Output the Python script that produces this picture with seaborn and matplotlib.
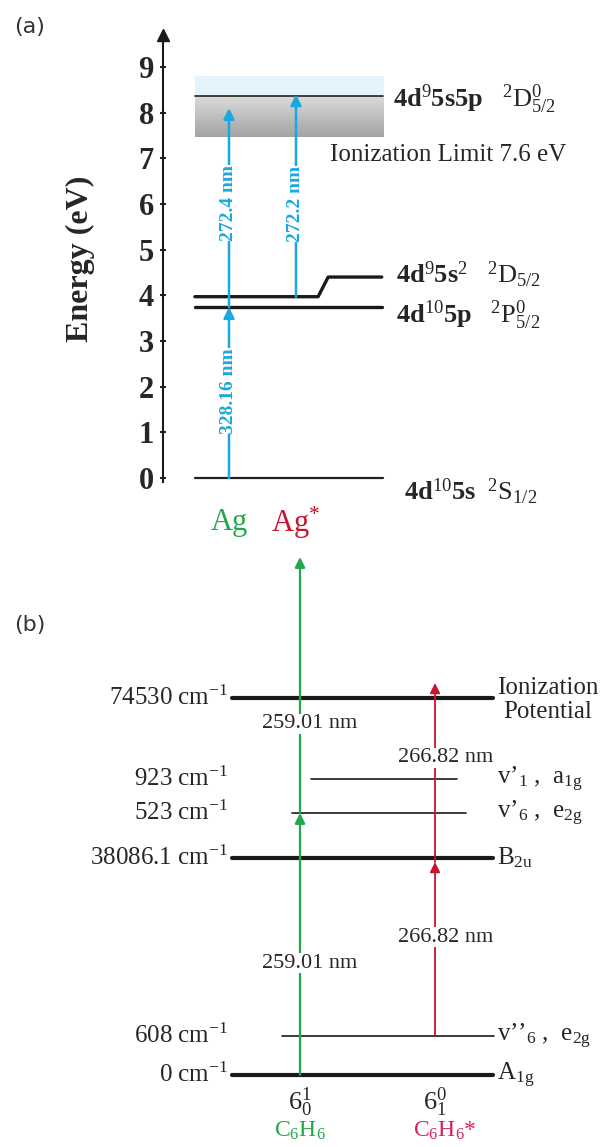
import numpy as np
import pandas as pd
import matplotlib
matplotlib.use("Agg")
import matplotlib.pyplot as plt
import seaborn as sns

# ---- panel (a): Ag levels (eV) ----
ag_level_ev = [0.0, 3.74, 3.97, 4.40, 8.37]
ag_level_text = [
    r"4d$^{10}$5s  ${}^{2}\mathrm{S}_{1/2}$",
    r"4d$^{10}$5p   ${}^{2}\mathrm{P}^{0}_{5/2}$",
    r"4d$^{9}$5s$^{2}$   ${}^{2}\mathrm{D}_{5/2}$",
    r"4d$^{9}$5s5p   ${}^{2}\mathrm{D}^{0}_{5/2}$",
]
ion_band_ev = (7.47, 8.80)
ion_limit_text = "Ionization Limit 7.6 eV"
species_a = ["Ag", r"Ag$^{*}$"]
# transitions: (column, start eV, end eV, label)
trans_a_col = [1, 1, 2]
trans_a_from = [0.0, 3.74, 3.97]
trans_a_to = [3.74, 8.10, 8.40]
trans_a_label = ["328.16 nm", "272.4 nm", "272.2 nm"]
yticks_a = list(range(10))

# ---- panel (b): benzene levels (cm-1) ----
bz_level_text = ["0 cm$^{-1}$", "608 cm$^{-1}$", "38086.1 cm$^{-1}$",
                 "523 cm$^{-1}$", "923 cm$^{-1}$", "74530 cm$^{-1}$"]
bz_level_sym = [r"A$_{\mathrm{1g}}$", r"v’’$_{6}$ ,  e$_{\mathrm{2g}}$", r"B$_{\mathrm{2u}}$",
                r"v’$_{6}$ ,  e$_{\mathrm{2g}}$", r"v’$_{1}$ ,  a$_{\mathrm{1g}}$",
                "Ionization\nPotential"]
# schematic (not to scale) drawing height of each level
bz_draw_y = [0, 39, 217, 262, 296, 377]
bz_thick = [True, False, True, False, False, True]
bz_x0 = [0.496, 0.867, 0.496, 0.94, 1.08, 0.496]
bz_x1 = [2.43, 2.437, 2.43, 2.23, 2.16, 2.43]
species_b = [r"C$_{6}$H$_{6}$", r"C$_{6}$H$_{6}$*"]
band_b = [r"$6^{1}_{0}$", r"$6^{0}_{1}$"]
wavelength_b = ["259.01 nm", "266.82 nm"]

sns.set_theme(style="white")
plt.rcParams["font.family"] = ["Liberation Serif", "DejaVu Serif"]
plt.rcParams["mathtext.fontset"] = "custom"
plt.rcParams["mathtext.rm"] = "Liberation Serif"
plt.rcParams["mathtext.it"] = "Liberation Serif:italic"
plt.rcParams["mathtext.bf"] = "Liberation Serif:bold"

CYAN = "#1aa8e0"
GREEN = "#22a84a"
RED = "#c8142c"
PINK = "#d6245a"

fig = plt.figure(figsize=(6.05, 11.47), dpi=100)

# ================= panel (a) =================
ax = fig.add_axes([163 / 605, (1147 - 482) / 1147, (605 - 163) / 605, (482 - 35) / 1147])

# ionization band gradient
rows = 120
yy = np.linspace(ion_band_ev[1], ion_band_ev[0], rows)
img = np.zeros((rows, 2, 3))
for i, y in enumerate(yy):
    if y > ag_level_ev[4]:
        img[i, :] = [0.90, 0.96, 0.99]
    else:
        t = (ag_level_ev[4] - y) / (ag_level_ev[4] - ion_band_ev[0])
        g = 0.86 - 0.22 * t
        img[i, :] = [g, g, g]
ax.imshow(img, extent=[0.49, 3.30, ion_band_ev[0], ion_band_ev[1]],
          aspect="auto", zorder=0, interpolation="bilinear")

# energy levels
lev = pd.DataFrame({"x": [0.49, 3.30], "y": [ag_level_ev[0]] * 2})
sns.lineplot(data=lev, x="x", y="y", ax=ax, color="#222222", lw=1.6, estimator=None, sort=False)
lev = pd.DataFrame({"x": [0.49, 3.28], "y": [ag_level_ev[1]] * 2})
sns.lineplot(data=lev, x="x", y="y", ax=ax, color="k", lw=2.4, estimator=None, sort=False)
lev = pd.DataFrame({"x": [0.49, 2.33, 2.48, 3.28],
                    "y": [ag_level_ev[2], ag_level_ev[2], ag_level_ev[3], ag_level_ev[3]]})
sns.lineplot(data=lev, x="x", y="y", ax=ax, color="k", lw=2.4, estimator=None, sort=False)
lev = pd.DataFrame({"x": [0.49, 3.30], "y": [ag_level_ev[4]] * 2})
sns.lineplot(data=lev, x="x", y="y", ax=ax, color="#222222", lw=1.2, estimator=None, sort=False)

# transitions
for c, y0, y1 in zip(trans_a_col, trans_a_from, trans_a_to):
    ax.annotate("", xy=(c, y1), xytext=(c, y0), zorder=3,
                arrowprops=dict(arrowstyle="-|>", color=CYAN, lw=1.8,
                                mutation_scale=16, shrinkA=0, shrinkB=0))
label_y = [1.90, 6.02, 6.00]
for c, ly, lab in zip(trans_a_col, label_y, trans_a_label):
    ax.text(c, ly, lab, rotation=90, ha="center", va="center", color=CYAN,
            fontsize=14, fontweight="bold", zorder=4,
            bbox=dict(facecolor="white", edgecolor="none", pad=0.3))

# level labels
ax.text(3.61, -0.30, ag_level_text[0], fontsize=19, fontweight="bold", va="center")
ax.text(3.49, 3.57, ag_level_text[1], fontsize=19, fontweight="bold", va="center")
ax.text(3.49, 4.45, ag_level_text[2], fontsize=19, fontweight="bold", va="center")
ax.text(3.45, 8.30, ag_level_text[3], fontsize=19, fontweight="bold", va="center")
ax.text(2.51, 7.07, ion_limit_text, fontsize=18, va="center")

ax.text(1, -0.98, species_a[0], color=GREEN, fontsize=22, ha="center", va="center")
ax.text(2, -0.98, species_a[1], color=RED, fontsize=22, ha="center", va="center")

ax.set_xlim(0.015, 6.612)
ax.set_ylim(-0.0876, 9.70)
ax.set_yticks(yticks_a)
ax.set_xticks([])
ax.tick_params(axis="y", direction="inout", length=5, width=1.5, labelsize=22, pad=4, left=True)
for t in ax.get_yticklabels():
    t.set_fontweight("bold")
for s in ["top", "right", "bottom"]:
    ax.spines[s].set_visible(False)
ax.spines["left"].set_color("k")
ax.spines["left"].set_linewidth(1.5)
ax.plot([0], [1], marker="^", color="k", ms=8, transform=ax.transAxes, clip_on=False)
ax.set_xlabel("")
ax.set_ylabel("Energy (eV)", fontsize=23, fontweight="bold")
ax.yaxis.set_label_coords(-(163 - 95) / 442, 0.50)

fig.text(14 / 605, 1 - 27 / 1147, "(a)", fontsize=16, family="DejaVu Sans", va="center", color="#333333")

# ================= panel (b) =================
bx = fig.add_axes([0, 0, 1, (1147 - 545) / 1147])
for y, x0, x1, thick, lab, sym in zip(bz_draw_y, bz_x0, bz_x1, bz_thick, bz_level_text, bz_level_sym):
    d = pd.DataFrame({"x": [x0, x1], "y": [y, y]})
    sns.lineplot(data=d, x="x", y="y", ax=bx, color="k", lw=3.0 if thick else 1.2,
                 estimator=None, sort=False)
    bx.text(0.467, y, lab, ha="right", va="center", fontsize=18)
    if "\n" in sym:
        bx.text(2.46, y - 2, sym, ha="left", va="center", fontsize=18,
                multialignment="center", linespacing=1.15)
    else:
        bx.text(2.46, y, sym, ha="left", va="center", fontsize=18)

# green: 0 -> 523 (B2u vib), then -> ionization
green_path = [bz_draw_y[0], bz_draw_y[3], 518]
for y0, y1 in zip(green_path[:-1], green_path[1:]):
    bx.annotate("", xy=(1, y1), xytext=(1, y0), zorder=3,
                arrowprops=dict(arrowstyle="-|>", color=GREEN, lw=1.6,
                                mutation_scale=15, shrinkA=0, shrinkB=0))
# red: 608 -> B2u, then -> above IP
red_path = [bz_draw_y[1], bz_draw_y[2] - 4, 392]
for y0, y1 in zip(red_path[:-1], red_path[1:]):
    bx.annotate("", xy=(2, y1), xytext=(2, y0), zorder=3,
                arrowprops=dict(arrowstyle="-|>", color=RED, lw=1.3,
                                mutation_scale=15, shrinkA=0, shrinkB=0))

for xx, ys, lab in [(1.074, [351, 112], wavelength_b[0]), (2.08, [317, 138], wavelength_b[1])]:
    for yv in ys:
        bx.text(xx, yv, lab, ha="center", va="center", fontsize=16, zorder=4,
                bbox=dict(facecolor="white", edgecolor="none", pad=0.5))

bx.text(1, -27, band_b[0], ha="center", va="center", fontsize=19)
bx.text(2, -27, band_b[1], ha="center", va="center", fontsize=19)
bx.text(1, -56, species_b[0], ha="center", va="center", fontsize=17, color=GREEN)
bx.text(2.07, -56, species_b[1], ha="center", va="center", fontsize=17, color=PINK)

bx.set_xlim(-1.222, 3.259)
bx.set_ylim(-72, 530)
bx.axis("off")

fig.text(14 / 605, 1 - 625 / 1147, "(b)", fontsize=16, family="DejaVu Sans", va="center", color="#333333")

fig.savefig("out.png", dpi=100)
